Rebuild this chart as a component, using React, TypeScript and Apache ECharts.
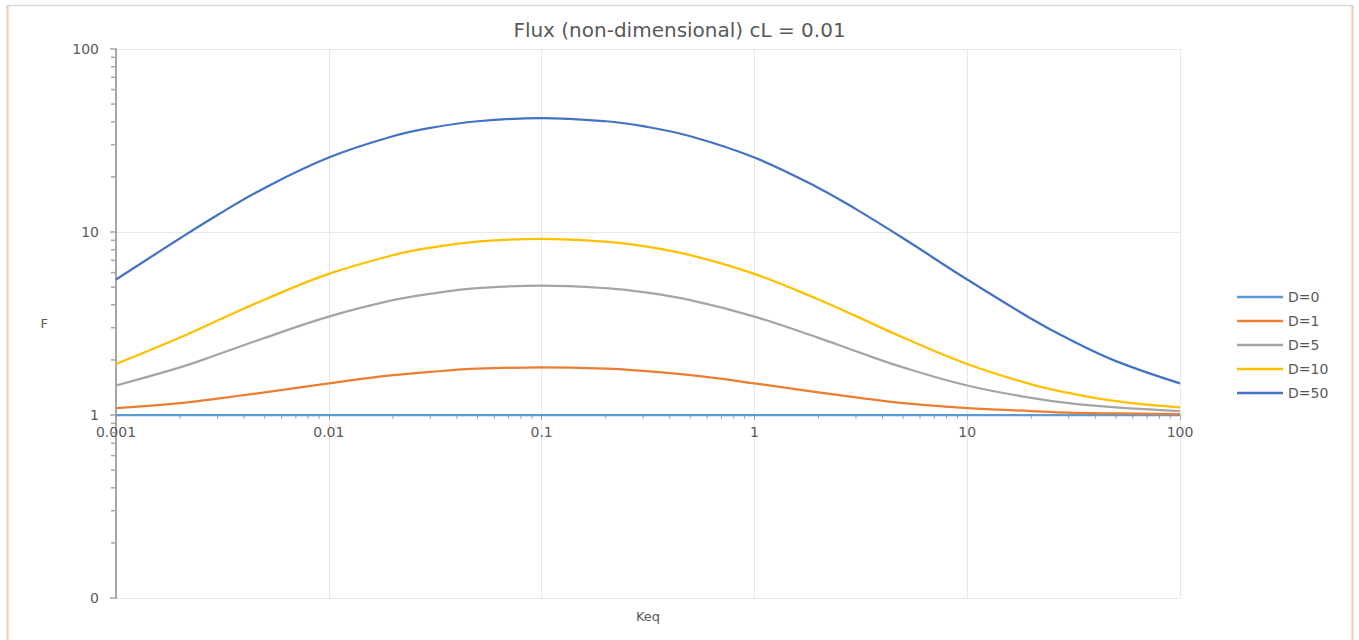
import React, { useEffect, useRef } from "react";
import * as echarts from "echarts";

const keq = [0.001, 0.002, 0.003, 0.005, 0.01, 0.02, 0.03, 0.05, 0.1, 0.2, 0.3, 0.5, 1, 2, 3, 5, 10, 20, 30, 50, 100];

const fluxD0 = [1, 1, 1, 1, 1, 1, 1, 1, 1, 1, 1, 1, 1, 1, 1, 1, 1, 1, 1, 1, 1];
const fluxD1 = [1.09, 1.16, 1.23, 1.33, 1.49, 1.65, 1.72, 1.79, 1.82, 1.79, 1.74, 1.65, 1.49, 1.33, 1.25, 1.16, 1.09, 1.05, 1.03, 1.02, 1.01];
const fluxD5 = [1.45, 1.82, 2.14, 2.64, 3.45, 4.24, 4.6, 4.93, 5.09, 4.93, 4.69, 4.24, 3.45, 2.64, 2.23, 1.82, 1.45, 1.24, 1.16, 1.1, 1.05];
const fluxD10 = [1.9, 2.65, 3.28, 4.28, 5.9, 7.47, 8.21, 8.86, 9.18, 8.86, 8.37, 7.47, 5.9, 4.28, 3.47, 2.65, 1.9, 1.47, 1.32, 1.19, 1.1];
const fluxD50 = [5.5, 9.24, 12.39, 17.42, 25.51, 33.35, 37.04, 40.29, 41.91, 40.29, 37.85, 33.35, 25.51, 17.42, 13.33, 9.24, 5.5, 3.36, 2.6, 1.97, 1.49];

const seriesNames = ["D=0", "D=1", "D=5", "D=10", "D=50"];
const seriesColors = ["#5B9BD5", "#ED7D31", "#A5A5A5", "#FFC000", "#4472C4"];
const seriesValues = [fluxD0, fluxD1, fluxD5, fluxD10, fluxD50];

const yMinorTicks = [0.2, 0.3, 0.4, 0.5, 0.6, 0.7, 0.8, 0.9, 2, 3, 4, 5, 6, 7, 8, 9, 20, 30, 40, 50, 60, 70, 80, 90];
const xMinorTicks = [
  0.002, 0.003, 0.004, 0.005, 0.006, 0.007, 0.008, 0.009,
  0.02, 0.03, 0.04, 0.05, 0.06, 0.07, 0.08, 0.09,
  0.2, 0.3, 0.4, 0.5, 0.6, 0.7, 0.8, 0.9,
  2, 3, 4, 5, 6, 7, 8, 9,
  20, 30, 40, 50, 60, 70, 80, 90,
];

const TEXT = "#595959";
const FONT = "DejaVu Sans";

export default function App() {
  const ref = useRef<HTMLDivElement>(null);
  useEffect(() => {
    if (!ref.current) return;
    const chart = echarts.init(ref.current, null, { renderer: "svg" });
    const fmt = (v: number) => String(Number(v.toPrecision(6)));
    const lineSeries = seriesNames.map((name, i) => ({
      name,
      type: "line",
      data: keq.map((k, j) => [k, seriesValues[i][j]]),
      smooth: 0.4,
      symbol: "none",
      lineStyle: { color: seriesColors[i], width: 2.25 },
      itemStyle: { color: seriesColors[i] },
      z: 4 + i,
    }));
    chart.setOption({
      animation: false,
      backgroundColor: "#ffffff",
      textStyle: { fontFamily: FONT },
      title: {
        text: "Flux (non-dimensional) cL = 0.01",
        left: "center",
        top: 15,
        textStyle: { color: TEXT, fontSize: 20, fontWeight: "normal", fontFamily: FONT },
      },
      graphic: [
        { type: "rect", shape: { x: 7.5, y: 5.5, width: 1345, height: 640 }, style: { fill: "none", stroke: "#d9d9d9", lineWidth: 1.5 }, silent: true },
        { type: "line", shape: { x1: 7.5, y1: 6, x2: 7.5, y2: 640 }, style: { stroke: "#f8cbad", lineWidth: 2 }, silent: true },
        { type: "line", shape: { x1: 1352.5, y1: 6, x2: 1352.5, y2: 640 }, style: { stroke: "#f8cbad", lineWidth: 2 }, silent: true },
      ],
      legend: {
        data: seriesNames,
        orient: "vertical",
        left: 1232,
        top: 285,
        icon: "rect",
        itemWidth: 46,
        itemHeight: 2.5,
        itemGap: 10,
        textStyle: { color: TEXT, fontSize: 14, fontFamily: FONT },
      },
      grid: { left: 116, right: 179, top: 49, bottom: 42 },
      xAxis: {
        type: "log",
        logBase: 10,
        min: 0.001,
        max: 100,
        offset: -183,
        name: "Keq",
        nameLocation: "middle",
        nameGap: 195,
        nameTextStyle: { color: TEXT, fontSize: 13, fontFamily: FONT },
        axisLine: { show: true, lineStyle: { color: "#bfbfbf", width: 1 } },
        axisTick: { show: true, length: 5, lineStyle: { color: "#a6a6a6" } },
        axisLabel: { color: TEXT, fontSize: 14, margin: 10, formatter: fmt, fontFamily: FONT },
        splitLine: { show: true, lineStyle: { color: "#e8e8e8", width: 1 } },
      },
      yAxis: {
        type: "log",
        logBase: 10,
        min: 0.1,
        max: 100,
        name: "F",
        nameLocation: "middle",
        nameRotate: 0,
        nameGap: 68,
        nameTextStyle: { color: TEXT, fontSize: 13, fontFamily: FONT },
        axisLine: { show: true, lineStyle: { color: "#a6a6a6", width: 2 } },
        axisTick: { show: true, length: 6, lineStyle: { color: "#a6a6a6", width: 1.5 } },
        axisLabel: {
          color: TEXT,
          fontSize: 14,
          margin: 17,
          fontFamily: FONT,
          formatter: (v: number) => (v < 1 ? "0" : fmt(v)),
        },
        splitLine: { show: true, lineStyle: { color: "#e8e8e8", width: 1 } },
      },
      series: [
        ...lineSeries,
        {
          type: "custom",
          name: "yMinor",
          silent: true,
          clip: false,
          z: 3,
          data: yMinorTicks.map((v) => [0.001, v]),
          renderItem: (_p: any, api: any) => {
            const pt = api.coord([api.value(0), api.value(1)]);
            return {
              type: "line",
              shape: { x1: pt[0] - 5, y1: pt[1], x2: pt[0] - 1, y2: pt[1] },
              style: { stroke: "#a6a6a6", lineWidth: 1.5 },
            };
          },
        },
        {
          type: "custom",
          name: "xMinor",
          silent: true,
          clip: false,
          z: 3,
          data: xMinorTicks.map((v) => [v, 1]),
          renderItem: (_p: any, api: any) => {
            const pt = api.coord([api.value(0), api.value(1)]);
            return {
              type: "line",
              shape: { x1: pt[0], y1: pt[1], x2: pt[0], y2: pt[1] + 4 },
              style: { stroke: "#a6a6a6", lineWidth: 1 },
            };
          },
        },
      ],
    });
    return () => chart.dispose();
  }, []);
  return (
    <div
      ref={ref}
      style={{ position: "fixed", left: 0, top: 0, width: 1359, height: 640 }}
    />
  );
}
